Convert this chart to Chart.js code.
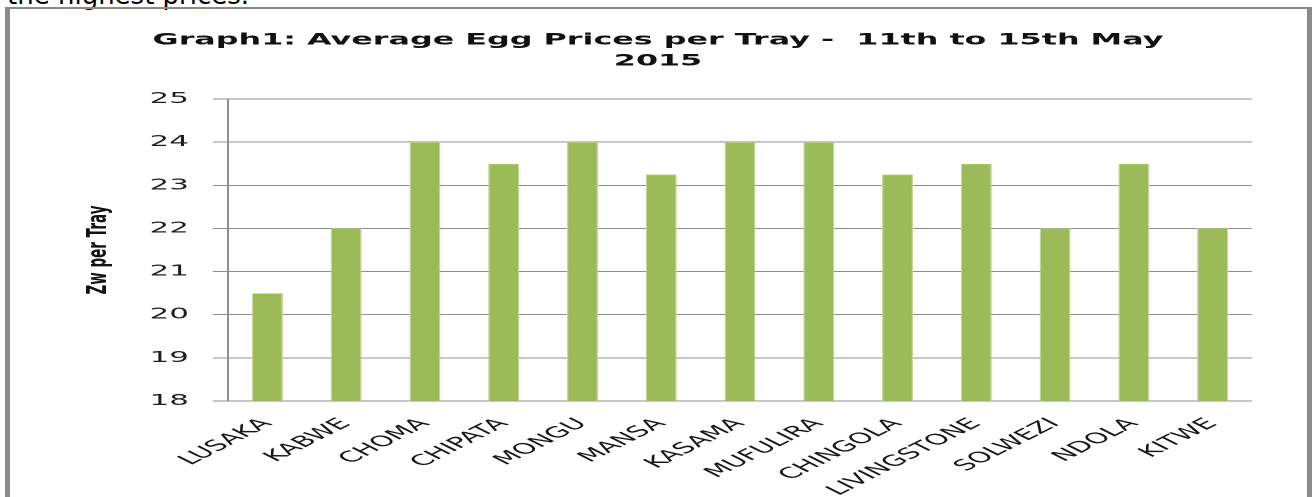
<!DOCTYPE html>
<html>
<head>
<meta charset="utf-8">
<script src="https://cdn.jsdelivr.net/npm/chart.js@4.4.1/dist/chart.umd.min.js"></script>
<style>
  html, body { margin: 0; padding: 0; background: #fff; width: 1315px; height: 497px; overflow: hidden; }
  #doc { position: absolute; left: 7px; top: -18px; font-family: "DejaVu Sans", sans-serif; font-size: 26px; line-height: 26px; color: #000; white-space: nowrap; }
  #frame { position: absolute; left: 5px; top: 7px; width: 1297px; height: 520px; border-left: 5px solid #8a8a8a; border-right: 5px solid #8a8a8a; border-top: 2px solid #8a8a8a; }
  #wrap { position: absolute; left: 10px; top: 0px; width: 648px; height: 497px; transform: scaleX(2); transform-origin: 0 0; }
</style>
</head>
<body>
<div id="doc">the highest prices.</div>
<div id="frame"></div>
<div id="wrap"><canvas id="c" width="648" height="497"></canvas></div>
<script>
const titleLines = ["Graph1: Average Egg Prices per Tray -  11th to 15th May", "2015"];
const yAxisTitle = "Zw per Tray";
const categories = ["LUSAKA", "KABWE", "CHOMA", "CHIPATA", "MONGU", "MANSA", "KASAMA", "MUFULIRA", "CHINGOLA", "LIVINGSTONE", "SOLWEZI", "NDOLA", "KITWE"];
const prices = [20.5, 22, 24, 23.5, 24, 23.25, 24, 24, 23.25, 23.5, 22, 23.5, 22];
const yMin = 18, yMax = 25, yStep = 1;

new Chart(document.getElementById('c'), {
  type: 'bar',
  data: {
    labels: categories,
    datasets: [{
      data: prices,
      backgroundColor: '#9BBB59',
      borderColor: '#c3d89a',
      borderWidth: 0.6,
      barPercentage: 0.395,
      categoryPercentage: 1.0
    }]
  },
  options: {
    responsive: false,
    devicePixelRatio: 2,
    animation: false,
    layout: { padding: { left: 27, right: 27, top: 0, bottom: 0 } },
    plugins: {
      legend: { display: false },
      tooltip: { enabled: false },
      title: {
        display: true,
        text: titleLines,
        color: '#111',
        font: { family: 'DejaVu Sans', size: 15.9, weight: 'bold', lineHeight: 1.32 },
        padding: { top: 30, bottom: 27 }
      }
    },
    scales: {
      x: {
        grid: { display: false, drawTicks: false },
        border: { display: false },
        ticks: {
          minRotation: 45, maxRotation: 45, autoSkip: false,
          padding: 14,
          color: '#161616',
          font: { family: 'DejaVu Sans', size: 15 }
        },
        afterFit: (s) => { s.height = 96; }
      },
      y: {
        min: yMin, max: yMax,
        grid: { color: '#8e8e8e', lineWidth: 1, tickLength: 7.5, drawTicks: true },
        border: { display: true, color: '#8e8e8e', width: 1 },
        ticks: {
          stepSize: yStep, padding: 12,
          color: '#1e1e1e',
          font: { family: 'DejaVu Sans', size: 15.5 }
        },
        title: {
          display: true, text: yAxisTitle, color: '#111',
          font: { family: 'DejaVu Sans', size: 13.5, weight: 'bold', lineHeight: 1.2 },
          padding: { top: 9.5, bottom: 0 }
        },
        afterFit: (s) => { s.width = 82; }
      }
    }
  }
});
</script>
</body>
</html>
